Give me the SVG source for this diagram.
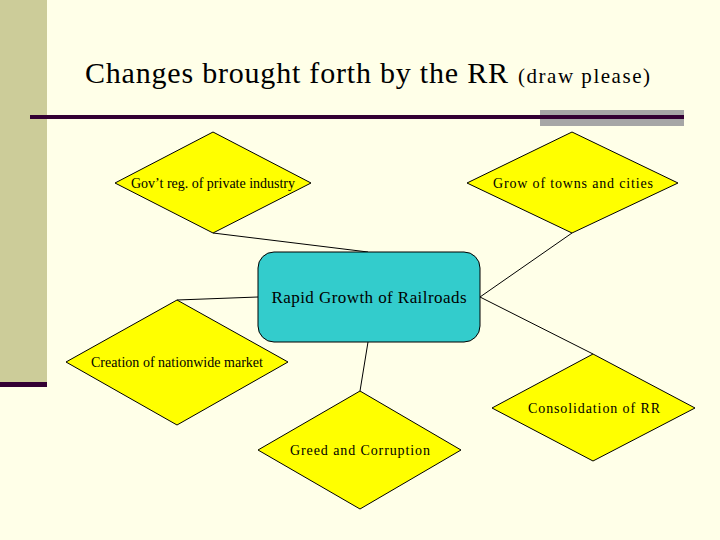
<svg xmlns="http://www.w3.org/2000/svg" width="720" height="540" viewBox="0 0 720 540">
<style>
.d{fill:#FFFF00;stroke:#000;stroke-width:1}
.t{font-family:"Liberation Serif","Times New Roman","DejaVu Serif",serif;fill:#000;text-anchor:middle}
.s{font-size:14px}
.c line{stroke:#000;stroke-width:1}
</style>
<rect width="720" height="540" fill="#FFFFE8"/>
<rect x="0" y="0" width="47" height="383" fill="#CCCC99"/>
<rect x="0" y="382" width="47" height="5" fill="#330033"/>
<rect x="540" y="110" width="144" height="16" fill="#A6A6A6"/>
<rect x="30" y="115" width="654" height="4" fill="#330033"/>
<g id="title" style="font-family:'Liberation Serif','Times New Roman','DejaVu Serif',serif" fill="#000">
<text x="85" y="83" font-size="30" textLength="423">Changes brought forth by the RR</text>
<text x="518" y="83" font-size="21" textLength="132">(draw please)</text>
</g>
<g class="c" id="connectors">
<line x1="213" y1="233" x2="368" y2="252"/>
<line x1="572" y1="233" x2="480" y2="297"/>
<line x1="480" y1="297" x2="593" y2="354"/>
<line x1="177" y1="300" x2="258" y2="297"/>
<line x1="360" y1="391" x2="368" y2="342"/>
</g>
<g id="center">
<rect x="258" y="252" width="222" height="90" rx="16" fill="#33CCCC" stroke="#000" stroke-width="1"/>
<text class="t" x="369" y="303" font-size="17" textLength="195">Rapid Growth of Railroads</text>
</g>
<g id="gov">
<polygon class="d" points="213,132 311,183 213,233 115,183"/>
<text class="t s" x="213" y="188" textLength="164">Gov’t reg. of private industry</text>
</g>
<g id="grow">
<polygon class="d" points="572,132 678,183 572,233 467,183"/>
<text class="t s" x="573" y="188" textLength="160">Grow of towns and cities</text>
</g>
<g id="creation">
<polygon class="d" points="177,300 288,362 177,425 66,362"/>
<text class="t s" x="177" y="367" textLength="172">Creation of nationwide market</text>
</g>
<g id="greed">
<polygon class="d" points="360,391 461,450 360,509 258,450"/>
<text class="t s" x="360" y="455" textLength="140">Greed and Corruption</text>
</g>
<g id="consolidation">
<polygon class="d" points="593,354 695,408 593,461 492,408"/>
<text class="t s" x="594" y="413" textLength="132">Consolidation of RR</text>
</g>
</svg>
